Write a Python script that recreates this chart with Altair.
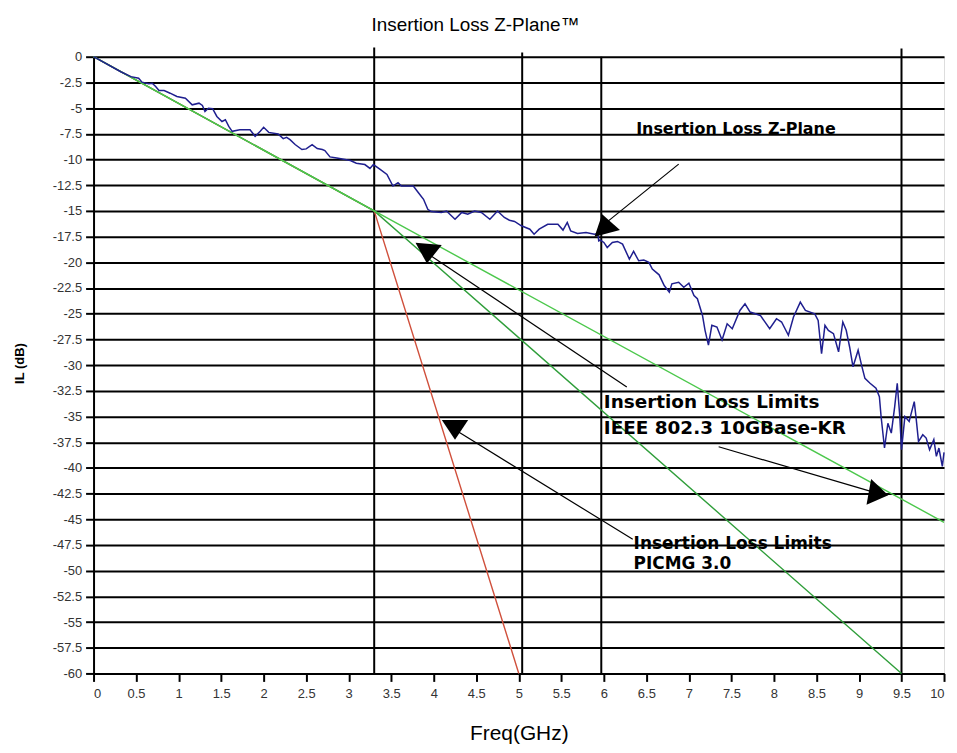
import altair as alt
import pandas as pd

# ---------------- text ----------------
title_text = "Insertion Loss Z-Plane\u2122"
x_title = "Freq(GHz)"
y_title = "IL (dB)"

# ---------------- axes ----------------
x_ticks = [0, 0.5, 1, 1.5, 2, 2.5, 3, 3.5, 4, 4.5, 5, 5.5, 6, 6.5, 7, 7.5, 8, 8.5, 9, 9.5, 10]
y_ticks = [0, -2.5, -5, -7.5, -10, -12.5, -15, -17.5, -20, -22.5, -25, -27.5, -30,
           -32.5, -35, -37.5, -40, -42.5, -45, -47.5, -50, -52.5, -55, -57.5, -60]

# ---------------- measured Z-Plane insertion loss (freq GHz, IL dB) ----------------
zplane_points = [
    (0, 0), (0.32, -1.46), (0.44, -1.94), (0.53, -2.10), (0.57, -2.48), (0.65, -2.64),
    (0.69, -2.58), (0.73, -2.90), (0.77, -3.29), (0.83, -3.29), (0.90, -3.55), (0.98, -3.87),
    (1.08, -4.04), (1.16, -4.68), (1.24, -4.52), (1.28, -4.74), (1.31, -5.33), (1.35, -5.01),
    (1.40, -5.06), (1.45, -5.81), (1.51, -6.30), (1.55, -6.13), (1.59, -6.78), (1.63, -7.26),
    (1.72, -7.10), (1.84, -7.10), (1.90, -7.74), (1.96, -7.26), (2.00, -6.87), (2.06, -7.36),
    (2.17, -7.52), (2.23, -7.97), (2.27, -7.84), (2.31, -8.07), (2.37, -8.54), (2.45, -9.03),
    (2.50, -8.97), (2.57, -8.55), (2.63, -8.94), (2.69, -9.03), (2.72, -9.13), (2.78, -9.75),
    (2.86, -9.85), (3.02, -10.10), (3.09, -10.36), (3.19, -10.49), (3.25, -10.87), (3.29, -10.49),
    (3.37, -10.97), (3.45, -11.46), (3.52, -12.58), (3.58, -12.26), (3.62, -12.58), (3.76, -12.58),
    (3.82, -13.23), (3.88, -13.87), (3.93, -14.84), (3.97, -15.06), (4.09, -15.15), (4.15, -15.01),
    (4.25, -15.81), (4.33, -15.15), (4.40, -15.33), (4.48, -15.01), (4.56, -15.15), (4.66, -15.81),
    (4.75, -15.01), (4.83, -15.64), (4.89, -15.91), (4.95, -16.03), (5.03, -16.45), (5.13, -16.78),
    (5.18, -17.27), (5.24, -16.78), (5.34, -16.30), (5.46, -16.30), (5.52, -16.87), (5.57, -16.13),
    (5.61, -16.94), (5.69, -17.20), (5.79, -17.11), (5.89, -17.27), (5.93, -17.20), (5.94, -17.91),
    (5.96, -17.84), (6.00, -18.07), (6.04, -18.56), (6.10, -18.07), (6.16, -17.97), (6.22, -18.23),
    (6.30, -19.68), (6.35, -18.94), (6.41, -19.85), (6.47, -19.78), (6.53, -20.00), (6.57, -20.65),
    (6.65, -21.22), (6.71, -22.26), (6.77, -22.91), (6.80, -22.10), (6.88, -21.94), (6.94, -22.43),
    (7.00, -22.04), (7.06, -23.23), (7.10, -23.55), (7.16, -25.17), (7.19, -26.62), (7.23, -28.06),
    (7.27, -26.13), (7.33, -26.30), (7.39, -27.57), (7.45, -25.98), (7.51, -26.46), (7.60, -24.69),
    (7.66, -24.04), (7.72, -24.84), (7.84, -25.17), (7.95, -26.46), (8.03, -25.49), (8.09, -25.81),
    (8.17, -27.10), (8.23, -25.32), (8.31, -23.88), (8.37, -24.69), (8.48, -25.01), (8.52, -25.65),
    (8.56, -28.88), (8.60, -26.13), (8.64, -26.62), (8.70, -26.94), (8.76, -28.71), (8.81, -25.81),
    (8.85, -26.62), (8.89, -28.24), (8.93, -30.17), (8.99, -28.55), (9.03, -30.01), (9.07, -31.29),
    (9.13, -31.77), (9.20, -32.26), (9.24, -33.07), (9.26, -35.00), (9.30, -38.07), (9.34, -35.66),
    (9.38, -36.62), (9.42, -34.04), (9.45, -31.78), (9.48, -35.01), (9.50, -38.23), (9.54, -35.01),
    (9.59, -35.49), (9.65, -33.55), (9.67, -35.01), (9.70, -37.44), (9.75, -36.78), (9.79, -37.10),
    (9.83, -38.23), (9.88, -37.25), (9.91, -38.88), (9.94, -38.07), (9.98, -39.85), (10.0, -38.5),
]

# ---------------- limit lines ----------------
picmg_freq = [0, 3.3, 5.0]
picmg_il = [0, -15, -60]
kr_upper_freq = [0, 3.3, 10]
kr_upper_il = [0, -15, -45.3]
kr_lower_freq = [0, 3.3, 9.5]
kr_lower_il = [0, -15, -60]

# ---------------- vertical marker rules ----------------
marker_freq = [3.3, 5.04, 5.97, 9.5]
marker_top = [0.9, 0.4, 0.0, 0.8]

# ---------------- annotations ----------------
arrow_tail_x = [6.88, 6.27, 7.35, 6.34]
arrow_tail_y = [-10.45, -32.14, -37.95, -46.95]
arrow_head_x = [6.01, 3.93, 9.23, 4.25]
arrow_head_y = [-16.26, -19.17, -42.5, -36.3]
arrow_head_angle = [345, 185, 100, 180]

label_text = ["Insertion Loss Z-Plane", "Insertion Loss Limits", "IEEE 802.3 10GBase-KR",
              "Insertion Loss Limits", "PICMG 3.0"]
label_x = [6.38, 6.0, 6.0, 6.35, 6.35]
label_y = [-7.52, -34.17, -36.69, -47.92, -49.85]
label_size = [16, 18.5, 18.5, 17, 17]

# title position (centre of the chart, above the plot)
title_x = [4.49]
title_y = [2.55]

# ---------------- styling ----------------
NARROW = "Liberation Sans Narrow, Arial Narrow, Liberation Sans, Arial, sans-serif"
BOLD_ANN = "DejaVu Sans, Verdana, sans-serif"

xscale = alt.Scale(domain=[0, 10], nice=False, zero=False)
yscale = alt.Scale(domain=[-60, 0], nice=False, zero=False)

x_axis = alt.Axis(values=x_ticks, labelExpr="'' + datum.value", grid=False,
                  domainColor="black", domainWidth=2, tickColor="black", tickWidth=2,
                  tickSize=8, labelFont=NARROW, labelFontSize=13, labelColor="#333333",
                  labelPadding=6, title=x_title, titleFont=NARROW, titleFontSize=21,
                  titleFontWeight="normal", titleColor="black", titleY=66,
                  titleBaseline="alphabetic")
y_axis = alt.Axis(values=y_ticks, labelExpr="'' + datum.value", grid=True,
                  gridColor="black", gridWidth=2, gridOpacity=1,
                  domainColor="black", domainWidth=2, tickColor="black", tickWidth=2,
                  tickSize=8, labelFont=NARROW, labelFontSize=13, labelColor="#333333",
                  labelPadding=4, title=y_title, titleFont="Liberation Sans, Arial, sans-serif",
                  titleFontSize=13, titleFontWeight="bold", titleColor="black",
                  titleAngle=270, titleX=-74, titleY=308, titleAlign="center",
                  titleBaseline="middle")


def X(field):
    return alt.X(field, type="quantitative", scale=xscale, axis=x_axis)


def Y(field):
    return alt.Y(field, type="quantitative", scale=yscale, axis=y_axis)


zdf = pd.DataFrame(zplane_points, columns=["f", "il"])
marker_df = pd.DataFrame({"f": marker_freq, "top": marker_top, "bottom": [-60] * len(marker_freq)})

rules = alt.Chart(marker_df).mark_rule(color="black", strokeWidth=2).encode(
    x=X("f"), y=Y("top"), y2="bottom")


def limit_line(freq, il, color):
    return alt.Chart(pd.DataFrame({"f": freq, "il": il})).mark_line(
        color=color, strokeWidth=1.4).encode(x=X("f"), y=Y("il"))


red = limit_line(picmg_freq, picmg_il, "#d0503c")
green_lo = limit_line(kr_lower_freq, kr_lower_il, "#2f9e3a")
green_hi = limit_line(kr_upper_freq, kr_upper_il, "#4cc84c")

zline = alt.Chart(zdf).mark_line(color="#1f1f8f", strokeWidth=1.5).encode(
    x=X("f"), y=Y("il"))

arrow_df = pd.DataFrame({"x": arrow_tail_x, "y": arrow_tail_y,
                         "x2": arrow_head_x, "y2": arrow_head_y,
                         "angle": arrow_head_angle})
arrow_lines = alt.Chart(arrow_df).mark_rule(color="black", strokeWidth=1.2).encode(
    x=X("x"), y=Y("y"), x2="x2", y2="y2")
arrow_heads = alt.Chart(arrow_df).mark_point(
    shape="M0,-0.75L1,0.75L-1,0.75Z", filled=True, color="black", opacity=1, size=700
).encode(x=X("x2"), y=Y("y2"), angle=alt.Angle("angle:Q", scale=None))

label_df = pd.DataFrame({"t": label_text, "x": label_x, "y": label_y, "s": label_size})
labels = alt.Chart(label_df).mark_text(
    align="left", baseline="alphabetic", font=BOLD_ANN, fontWeight="bold", color="black"
).encode(x=X("x"), y=Y("y"), text="t:N", size=alt.Size("s:Q", scale=None))

title_df = pd.DataFrame({"t": [title_text], "x": title_x, "y": title_y})
title_mark = alt.Chart(title_df).mark_text(
    align="center", baseline="alphabetic", font=NARROW, fontSize=19, color="black"
).encode(x=X("x"), y=Y("y"), text="t:N")

chart = alt.layer(rules, red, green_lo, green_hi, zline, arrow_lines, arrow_heads, labels,
                  title_mark).properties(
    width=855, height=620,
    autosize=alt.AutoSizeParams(type="none"),
    padding={"left": 86, "top": 47, "right": 5, "bottom": 75},
).configure_view(fill="#c0c0c0", stroke="transparent").configure(background="white")

chart.save("out.html", embed_options={"renderer": "svg", "actions": False})
